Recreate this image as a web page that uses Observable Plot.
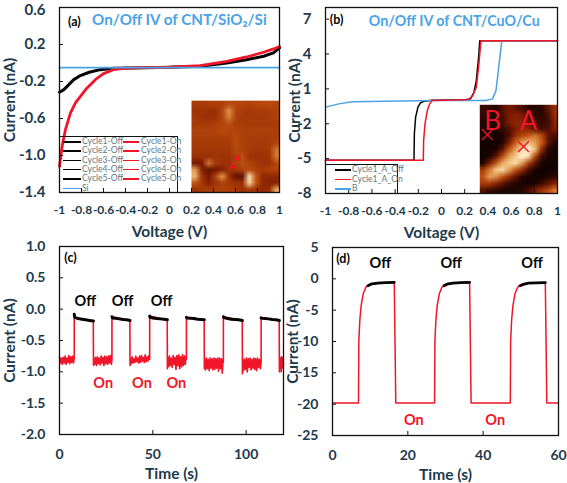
<!DOCTYPE html>
<html>
<head>
<meta charset="utf-8">
<script src="https://cdn.jsdelivr.net/npm/d3@7"></script>
<script src="https://cdn.jsdelivr.net/npm/@observablehq/plot@0.6"></script>
<style>
html,body{margin:0;padding:0;background:#fff;overflow:hidden}
#root{position:relative;width:567px;height:483px;font-family:Lato,"Open Sans",sans-serif}
#root>svg{position:absolute;background:transparent;overflow:visible}
.legend{position:absolute;border:1px solid #111;box-sizing:border-box;font-size:8.6px;color:#5f7880;line-height:9px}
.legend .e{position:absolute;white-space:nowrap;height:9px}
.legend .s{position:absolute;height:1.6px}
</style>
</head>
<body>
<div id="root"></div>
<script>
const INK = "#1d3a4c", RED = "#f01528", BLUE = "#4aa3e6", BLACK = "#050505";

// Panel (a)
const aOffV = [-1,-.96,-.915,-.87,-.81,-.73,-.63,-.51,-.325,0,.28,.52,.70,.855,.945,1];
const aOffI = [-.317,-.288,-.234,-.18,-.136,-.10,-.072,-.057,-.054,-.046,-.036,0,.036,.073,.109,.163];
const aOnV = [-1,-.976,-.946,-.90,-.855,-.81,-.75,-.674,-.60,-.51,-.40,-.265,0,.28,.52,.70,.855,.945,1];
const aOnI = [-1.117,-.90,-.72,-.54,-.432,-.36,-.27,-.18,-.115,-.072,-.054,-.05,-.046,-.028,.018,.065,.116,.152,.178];
const aSiV = [-1,1];
const aSiI = [-.05,-.05];
const aXTicks = [-1,-.8,-.6,-.4,-.2,0,.2,.4,.6,.8,1];
const aYTicks = [.6,.2,-.2,-.6,-1,-1.4];
const aInset = [
 .35,.35,.38,.38,.38,.45,.42,.42,.40,.42,.45,.45,.42,
 .30,.32,.30,.28,.42,.68,.42,.36,.34,.36,.36,.38,.40,
 .35,.30,.30,.30,.42,.64,.40,.35,.35,.35,.35,.35,.40,
 .35,.35,.35,.38,.42,.46,.38,.36,.35,.35,.35,.35,.35,
 .40,.40,.40,.42,.45,.42,.42,.38,.38,.38,.38,.38,.38,
 .38,.38,.38,.38,.38,.38,.44,.38,.38,.36,.36,.36,.36,
 .35,.35,.35,.35,.35,.35,.46,.38,.36,.35,.35,.35,.42,
 .33,.33,.33,.33,.33,.33,.44,.40,.35,.33,.33,.36,.62,
 .30,.30,.28,.32,.30,.30,.38,.48,.30,.30,.30,.32,.62,
 .15,.15,.62,.35,.30,.30,.38,.46,.40,.35,.30,.30,.45,
 .72,.20,.12,.15,.20,.30,.32,.40,.45,.38,.35,.40,.40,
 .78,.30,.15,.40,.70,.30,.12,.12,.92,.50,.25,.25,.25,
 .50,.35,.20,.30,.40,.35,.30,.30,.90,.50,.25,.20,.20,
 .30,.35,.35,.38,.38,.38,.35,.30,.35,.30,.25,.30,.75];

// Panel (b)
const bOffV = [-1,-.237,-.234,-.223,-.203,-.18,-.15,-.08,.21,.25,.28,.30,.32,.33,1];
const bOffI = [-5.14,-5.14,-2.86,-1.43,-.57,-.19,-.07,.03,.06,.14,.71,1.71,3.71,5.14,5.14];
const bOnV = [-1,-.157,-.154,-.142,-.122,-.102,-.08,.21,.24,.27,.30,.32,.34,1];
const bOnI = [-5.14,-5.14,-3.43,-2,-.86,-.29,0,.06,.14,.43,1.14,2.86,5.14,5.14];
const bBV = [-1,-.885,-.77,-.48,-.08,.38,.44,.47,.49,.51,.52,1];
const bBI = [-.57,-.29,-.11,-.06,0,0,.14,.86,2.57,4.29,5.14,5.14];
const bXTicks = [-1,-.8,-.6,-.4,-.2,0,.2,.4,.6,.8,1];
const bYTicks = [7,4,1,-2,-5,-8];
const bInset = [
 .06,.05,.03,.10,.15,.12,.08,.04,.04,.04,.12,.28,
 .06,.04,.03,.08,.16,.20,.16,.08,.04,.04,.08,.28,
 .03,.04,.03,.08,.18,.24,.20,.12,.08,.06,.06,.22,
 .03,.02,.02,.05,.10,.18,.24,.22,.10,.08,.10,.18,
 .02,.01,.01,.03,.08,.28,.42,.52,.62,.45,.12,.08,
 .01,.01,.01,.03,.18,.55,.72,.80,.72,.55,.12,.04,
 .01,.01,.02,.12,.50,.72,.90,1,.80,.28,.04,.02,
 .01,.02,.12,.45,.72,.85,1,.90,.45,.08,.02,.02,
 .02,.18,.50,.75,.85,.90,.72,.38,.12,.02,.01,.01,
 .35,.62,.85,.90,.72,.50,.28,.08,.02,.01,.01,.01,
 .50,.72,.68,.50,.28,.12,.04,.02,.01,.01,.03,.05,
 .35,.35,.22,.12,.06,.03,.02,.01,.02,.06,.12,.22,
 .10,.06,.04,.02,.02,.02,.04,.08,.18,.30,.45,.62];

// Panel (c): on-state trace, with the off plateaus included so the edges join
const cTime = [
 0,.5,1,1.5,2,2.5,3,3.5,4,4.5,5,5.5,6,6.5,7,7.5,7.9,7.9,8.1,
 13,18.1,18.2,18.3,18.8,19.3,19.8,20.3,20.8,21.3,21.8,22.3,22.8,23.3,23.8,24.3,24.8,25.3,25.8,26.3,26.8,27.3,27.8,28.1,28.1,
 33,37.7,37.8,37.9,38.4,38.9,39.4,39.9,40.4,40.9,41.4,41.9,42.4,42.9,43.4,43.9,44.4,44.9,45.4,45.9,46.4,46.9,47.4,47.9,48.3,48.3,
 53,57.7,57.8,57.9,58.4,58.9,59.4,59.9,60.4,60.9,61.4,61.9,62.4,62.9,63.4,63.9,64.4,64.9,65.4,65.9,66.4,66.9,67.4,67.9,68,68,
 73,77.5,77.6,77.7,78.2,78.7,79.2,79.7,80.2,80.7,81.2,81.7,82.2,82.7,83.2,83.7,84.2,84.7,85.2,85.7,86.2,86.7,87.2,87.7,87.8,87.8,
 93,97.9,98,98.1,98.6,99.1,99.6,100.1,100.6,101.1,101.6,102.1,102.6,103.1,103.6,104.1,104.6,105.1,105.6,106.1,106.6,107.1,107.6,108,108,
 113,117.7,117.8,117.9,118.2,118.5,118.8,119.1,119.4,119.7,120];
const cCurrent = [
 -.76,-.86,-.78,-.88,-.77,-.86,-.75,-.88,-.78,-.85,-.74,-.87,-.76,-.85,-.75,-.86,-.78,-.1,-.14,
 -.16,-.19,-.9,-.78,-.88,-.77,-.90,-.76,-.87,-.78,-.89,-.75,-.86,-.77,-.90,-.75,-.87,-.76,-.88,-.75,-.86,-.74,-.88,-.8,-.12,
 -.15,-.18,-.9,-.78,-.87,-.76,-.86,-.79,-.85,-.75,-.84,-.78,-.86,-.75,-.85,-.74,-.83,-.77,-.85,-.73,-.84,-.76,-.83,-.74,-.8,-.11,
 -.14,-.17,-.95,-.76,-.92,-.75,-.90,-.78,-.93,-.74,-.88,-.77,-.96,-.74,-.90,-.73,-.95,-.76,-.92,-.73,-.90,-.75,-.88,-.74,-.8,-.13,
 -.15,-.17,-.95,-.79,-.97,-.78,-.95,-.80,-.98,-.78,-.94,-.79,-.97,-.78,-.96,-.79,-.94,-.78,-.99,-.78,-.95,-.79,-1.02,-.78,-.85,-.12,
 -.15,-.18,-1.03,-.78,-.98,-.80,-.96,-.78,-1.0,-.79,-.93,-.78,-.97,-.80,-.94,-.78,-.96,-.79,-.98,-.78,-.93,-.80,-.95,-.85,-.13,
 -.16,-.18,-1.0,-.76,-.95,-.78,-1.0,-.76,-.94,-.78,-.9];
const cOffSegments = [
 {t:[7.9,8.2,10,12,14,16,18.2], i:[-.08,-.13,-.15,-.16,-.17,-.18,-.19]},
 {t:[28.1,28.4,30,32,34,36,37.8], i:[-.12,-.14,-.145,-.155,-.165,-.17,-.18]},
 {t:[48.3,48.6,50,52,54,56,57.8], i:[-.11,-.13,-.14,-.15,-.155,-.16,-.17]},
 {t:[68,68.3,70,72,74,76,77.6], i:[-.13,-.14,-.145,-.15,-.16,-.165,-.17]},
 {t:[87.8,88.1,90,92,94,96,98], i:[-.12,-.135,-.15,-.16,-.165,-.17,-.18]},
 {t:[108,108.3,110,112,114,116,117.8], i:[-.14,-.145,-.15,-.155,-.165,-.17,-.18]}];
const cXTicks = [0,50,100];
const cYTicks = [1,.5,0,-.5,-1,-1.5,-2];

// Panel (d)
const dOnTime = [0,6.9,7,7.25,7.6,8.15,8.85,9.7,12,16.4,16.8,27.1,27.2,27.45,27.8,28.35,29.05,29.9,32,36.4,36.8,47.2,47.3,47.55,47.9,48.45,49.15,50,52,56.5,56.9,60];
const dOnCurrent = [-19.8,-19.8,-9.84,-6.65,-4.26,-2.39,-1.33,-.9,-.7,-.6,-19.8,-19.8,-9.84,-6.65,-4.26,-2.39,-1.33,-.9,-.7,-.6,-19.8,-19.8,-9.84,-6.65,-4.26,-2.39,-1.33,-.9,-.7,-.6,-19.8,-19.8];
const dOffSegments = [
 {t:[9.4,10.5,12,14,16.4], i:[-1.1,-.8,-.68,-.62,-.55]},
 {t:[29.6,30.7,32,34,36.4], i:[-1.1,-.8,-.68,-.62,-.55]},
 {t:[49.8,50.9,52,54,56.5], i:[-1.1,-.85,-.7,-.65,-.6]}];
const dXTicks = [0,20,40,60];
const dYTicks = [5,0,-5,-10,-15,-20,-25];

// Annotations
const cOffT = [13.8,33.8,54.7], cOffY = [.12,.12,.13];
const cOnT = [23.4,44.2,62.6], cOnY = [-1.18,-1.19,-1.18];
const dOffT = [12.7,31.5,53], dOffY = [2.4,2.4,2.5];
const dOnT = [21.6,43.2], dOnY = [-22.6,-22.6];

const aLegend = ["Cycle1-Off","Cycle2-Off","Cycle3-Off","Cycle4-Off","Cycle5-Off"];
const aLegendOn = ["Cycle1-On","Cycle2-On","Cycle3-On","Cycle4-On","Cycle5-On"];
const bLegend = [["Cycle1_A_Off",BLACK],["Cycle1_A_On",RED],["B",BLUE]];

const root = document.getElementById("root");
const oneDec = d => d.toFixed(1);
const general = d => String(d);
const heat = {
  type:"linear",
  domain:[0,.15,.35,.55,.8,1],
  range:["#0c0100","#7a1802","#a83a08","#c95c16","#efbc74","#fff6d8"]
};
function panel(o){
  const {left,top,width,height,margins,x,y,xTicks,yTicks,xFmt,yFmt,xLabel,yLabel,xSize,ySize,xPad,yPad,xOff,yOff,marks,color} = o;
  // The topmost y label is nudged down a little so that it stays inside the page.
  const topTick = yTicks[0], restTicks = yTicks.slice(1);
  const p = Plot.plot({
    width,height,
    marginLeft:margins[0],marginRight:margins[1],marginTop:margins[2],marginBottom:margins[3],
    x:{domain:x},y:{domain:y},
    color,
    style:{background:"transparent",color:INK,fontFamily:"Lato, sans-serif",fontWeight:700,overflow:"visible"},
    marks:[
      ...marks,
      Plot.axisX({ticks:xTicks,tickSize:-4,fill:"none",stroke:"#111",anchor:"bottom",label:null}),
      Plot.axisY({ticks:yTicks,tickSize:-4,fill:"none",stroke:"#111",anchor:"left",label:null}),
      Plot.axisX({ticks:xTicks,tickSize:0,tickPadding:xPad,tickFormat:xFmt,fontSize:xSize,anchor:"bottom",label:xLabel,labelAnchor:"center",labelArrow:"none",labelOffset:xOff,fill:INK}),
      Plot.axisY({ticks:restTicks,tickSize:0,tickPadding:yPad,tickFormat:yFmt,fontSize:ySize,anchor:"left",label:yLabel,labelAnchor:"center",labelArrow:"none",labelOffset:yOff,fill:INK}),
      Plot.axisY({ticks:[topTick],tickSize:0,tickPadding:yPad,tickFormat:yFmt,fontSize:ySize,anchor:"left",label:null,dy:left===0&&top===0?3:0,fill:INK}),
      Plot.frame({stroke:"#111",strokeWidth:1.3})
    ]
  });
  p.style.left = left+"px"; p.style.top = top+"px";
  p.querySelectorAll('[aria-label$="axis label"]').forEach(g=>g.setAttribute("font-size",15.5));
  root.appendChild(p);
}
const line = (xs,ys,stroke,strokeWidth) => Plot.line(ys,{x:xs,y:ys,stroke,strokeWidth,strokeLinejoin:"round",curve:"linear"});
const label = (xs,ys,text,fill,fontSize,fontWeight=700) => Plot.text(text,{x:xs,y:ys,text:d=>d,fill,fontSize,fontWeight,fontFamily:"Lato, sans-serif"});

panel({
  left:0,top:0,width:285,height:240,margins:[59,6,7,48],
  x:[-1,1],y:[-1.4,.6],xTicks:aXTicks,yTicks:aYTicks,xFmt:general,yFmt:oneDec,
  xLabel:"Voltage (V)",yLabel:"Current (nA)",xSize:12,ySize:15,xPad:13,yPad:14,xOff:44,yOff:56,color:heat,
  marks:[
    Plot.raster(aInset,{width:13,height:14,x1:.2,x2:1,y1:-.407,y2:-1.4,fill:d=>d}),
    line(aOffV,aOffI,BLACK,3),
    line(aOnV,aOnI,RED,2.8),
    line(aSiV,aSiI,BLUE,1.8),
    Plot.dot([.618],{x:d=>d,y:[-1.027],symbol:"square",r:2.6,fill:RED}),
    label([.573],[-1.11],["A"],RED,12,400),
    label([-.865],[.44],["(a)"],BLACK,12.5),
    label([.09],[.46],["On/Off IV of CNT/SiO₂/Si"],BLUE,15.2)
  ]
});
panel({
  left:285,top:0,width:282,height:240,margins:[40,10,7,47],
  x:[-1,1],y:[-8,8],xTicks:bXTicks,yTicks:bYTicks,xFmt:general,yFmt:general,
  xLabel:"Voltage (V)",yLabel:"Current (nA)",xSize:12,ySize:15,xPad:13,yPad:14,xOff:44,yOff:37,color:heat,
  marks:[
    Plot.raster(bInset,{width:12,height:13,x1:.33,x2:1,y1:-.37,y2:-8,fill:d=>d}),
    line(bOffV,bOffI,BLACK,1.5),
    line(bBV,bBI,BLUE,1.5),
    line(bOnV,bOnI,RED,1.5),
    label([.44,.75],[-1.83,-1.83],["B","A"],RED,26,400),
    Plot.dot([.396,.707],{x:d=>d,y:[-2.94,-3.97],symbol:"times",r:5,stroke:RED,strokeWidth:1.3}),
    label([-.905],[6.9],["(b)"],BLACK,12.5),
    label([.11],[6.83],["On/Off IV of CNT/CuO/Cu"],BLUE,14.3)
  ]
});
panel({
  left:0,top:240,width:285,height:243,margins:[59,2,6,49],
  x:[0,120],y:[-2,1],xTicks:cXTicks,yTicks:cYTicks,xFmt:general,yFmt:oneDec,
  xLabel:"Time (s)",yLabel:"Current (nA)",xSize:14,ySize:14,xPad:15,yPad:14,xOff:44,yOff:56,
  marks:[
    line(cTime,cCurrent,RED,1.6),
    ...cOffSegments.map(s=>line(s.t,s.i,BLACK,3)),
    label(cOffT,cOffY,["Off","Off","Off"],BLACK,14.5),
    label(cOnT,cOnY,["On","On","On"],RED,14.5),
    label([5.9],[.81],["(c)"],BLACK,12.5)
  ]
});
panel({
  left:285,top:240,width:282,height:243,margins:[47,9,7,48],
  x:[0,60],y:[-25,5],xTicks:dXTicks,yTicks:dYTicks,xFmt:general,yFmt:general,
  xLabel:"Time (s)",yLabel:"Current (nA)",xSize:14,ySize:14,xPad:15,yPad:14,xOff:44,yOff:46,
  marks:[
    line(dOnTime,dOnCurrent,RED,1.5),
    ...dOffSegments.map(s=>line(s.t,s.i,BLACK,2.8)),
    label(dOffT,dOffY,["Off","Off","Off"],BLACK,14.5),
    label(dOnT,dOnY,["On","On"],RED,14.5),
    label([2.8],[3.2],["(d)"],BLACK,12.5)
  ]
});

function legendBox(left,top,w,h,rows){
  const b = document.createElement("div");
  b.className = "legend";
  b.style.cssText = `left:${left}px;top:${top}px;width:${w}px;height:${h}px`;
  rows.forEach(r=>{
    const s = document.createElement("div");
    s.className = "s";
    s.style.cssText = `left:${r.sx}px;top:${r.y}px;width:${r.sw}px;background:${r.color}`;
    b.appendChild(s);
    const t = document.createElement("div");
    t.className = "e";
    t.textContent = r.text;
    t.style.cssText = `left:${r.tx}px;top:${r.y-4}px`;
    b.appendChild(t);
  });
  root.appendChild(b);
}
const aRows = [];
aLegend.forEach((d,i)=>aRows.push({text:d,color:BLACK,sx:3,sw:18,tx:22,y:4+i*9.3}));
aLegendOn.forEach((d,i)=>aRows.push({text:d,color:RED,sx:63,sw:16,tx:81,y:4+i*9.3}));
aRows.push({text:"Si",color:BLUE,sx:3,sw:18,tx:22,y:50.5});
legendBox(59,136,119,57,aRows);
legendBox(325,164,73,30,bLegend.map((d,i)=>({text:d[0],color:d[1],sx:9,sw:16,tx:26,y:4+i*9.6})));
</script>
</body>
</html>
